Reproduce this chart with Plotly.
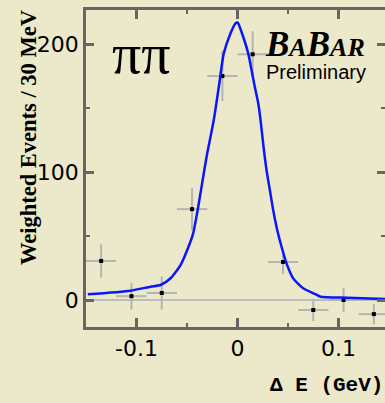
import plotly.graph_objects as go

# ---- data ----
bin_centers = [-0.135, -0.105, -0.075, -0.045, -0.015, 0.015, 0.045, 0.075, 0.105, 0.135]
weighted_events = [30.5, 3.0, 5.5, 71.0, 175.0, 192.0, 29.7, -7.8, 0.0, -11.0]
event_errors = [13.0, 10.5, 13.0, 16.5, 19.5, 18.0, 9.4, 8.6, 9.4, 8.0]
bin_half_width = [0.015] * 10

fit_x = [-0.1482, -0.1059, -0.0861, -0.0762, -0.0663, -0.0564, -0.0498, -0.0439,
         -0.0389, -0.0334, -0.0300, -0.0235, -0.0185, -0.0136, -0.0069, -0.0020,
         0.0, 0.0007, 0.0056, 0.0106, 0.0139, 0.0171, 0.0205, 0.0228, 0.0257,
         0.0287, 0.0320, 0.0353, 0.0393, 0.0436, 0.0485, 0.0551, 0.0650, 0.0765,
         0.0822, 0.1086, 0.146]
fit_y = [4.5, 7.3, 10.4, 11.7, 17.0, 27.3, 39.1, 52.1,
         72.9, 99.0, 114.6, 140.6, 166.6, 192.7, 208.4, 216.2,
         216.8, 216.2, 205.7, 192.7, 179.7, 166.6, 153.7, 140.6, 120.0,
         101.6, 85.9, 70.3, 54.7, 41.6, 28.6, 16.9, 9.1, 4.7,
         2.6, 1.8, 0.8]

x_ticks = [-0.1, 0, 0.1]
x_tick_text = ["-0.1", "0", "0.1"]
y_ticks = [0, 100, 200]
y_tick_text = ["0", "100", "200"]

BG = "#ebe9c9"
AXC = "#666666"
GREY = "#b4b4b4"
Y_RANGE = [-21.1, 226.6]

fig = go.Figure()

fig.add_hline(y=0, line=dict(color="#bcbcbc", width=2), layer="below")

fig.add_trace(go.Scatter(
    x=bin_centers, y=weighted_events, mode="markers",
    marker=dict(symbol="square", size=4, color="black"),
    error_y=dict(type="data", array=event_errors, color=GREY, thickness=2, width=0),
    error_x=dict(type="data", array=bin_half_width, color=GREY, thickness=2, width=0),
    showlegend=False,
))

fig.add_trace(go.Scatter(
    x=fit_x, y=fit_y, mode="lines", yaxis="y2",
    line=dict(color="#0a14ff", width=2.5, shape="spline", smoothing=0.6),
    showlegend=False,
))

tickfont = dict(family="DejaVu Sans", size=22, color="black")

fig.update_xaxes(
    range=[-0.15, 0.146], tickvals=x_ticks, ticktext=x_tick_text,
    ticks="inside", ticklen=9, tickwidth=2.5, tickcolor=AXC,
    showline=True, linecolor=AXC, linewidth=2.5, mirror="ticks",
    showgrid=False, zeroline=False, tickfont=tickfont,
    minor=dict(dtick=0.05, tick0=0.05, ticks="inside", ticklen=4, tickwidth=2, tickcolor=AXC, showgrid=False),
)
fig.update_yaxes(
    range=Y_RANGE, tickvals=y_ticks, ticktext=y_tick_text,
    ticks="inside", ticklen=8, tickwidth=2.5, tickcolor=AXC,
    showline=True, linecolor=AXC, linewidth=2.5, mirror=False,
    showgrid=False, zeroline=False, tickfont=tickfont, ticklabelstandoff=0,
    minor=dict(dtick=50, tick0=50, ticks="inside", ticklen=4, tickwidth=2, tickcolor=AXC, showgrid=False),
)

fig.update_layout(
    yaxis2=dict(
        overlaying="y", side="right", range=Y_RANGE, tickvals=y_ticks,
        showticklabels=False, ticks="inside", ticklen=8, tickwidth=2.5, tickcolor=AXC,
        showline=False, showgrid=False, zeroline=False,
        minor=dict(dtick=50, tick0=50, ticks="inside", ticklen=4, tickwidth=2, tickcolor=AXC, showgrid=False),
    ),
)

fig.update_layout(
    width=385, height=403,
    margin=dict(l=86, r=0, t=10, b=76),
    paper_bgcolor=BG, plot_bgcolor=BG,
    annotations=[
        dict(text="Weighted Events / 30 MeV", textangle=-90, xref="paper", yref="paper",
             x=0, y=0.596, xshift=-58, xanchor="center", yanchor="middle", showarrow=False,
             font=dict(family="Liberation Serif", size=22.5, color="black", weight="bold")),
        dict(text="Δ E (GeV)", xref="paper", yref="paper", x=1, y=0, yshift=-58,
             xanchor="right", yanchor="middle", showarrow=False,
             font=dict(family="Liberation Mono", size=21, color="black", weight="bold")),
        dict(text="ππ", xref="paper", yref="paper", x=0.187, y=0.862,
             xanchor="center", yanchor="middle", showarrow=False,
             font=dict(family="Liberation Serif", size=58, color="black")),
        dict(text="<b><i>B<span style='font-size:26px'>A</span>B<span style='font-size:26px'>AR</span></i></b>",
             xref="paper", yref="paper", x=0.94, y=0.89,
             xanchor="right", yanchor="middle", showarrow=False,
             font=dict(family="Liberation Serif", size=35, color="black")),
        dict(text="Preliminary", xref="paper", yref="paper", x=0.77, y=0.805,
             xanchor="center", yanchor="middle", showarrow=False,
             font=dict(family="Liberation Sans", size=20, color="black")),
    ],
)

fig.write_html("out.html")
